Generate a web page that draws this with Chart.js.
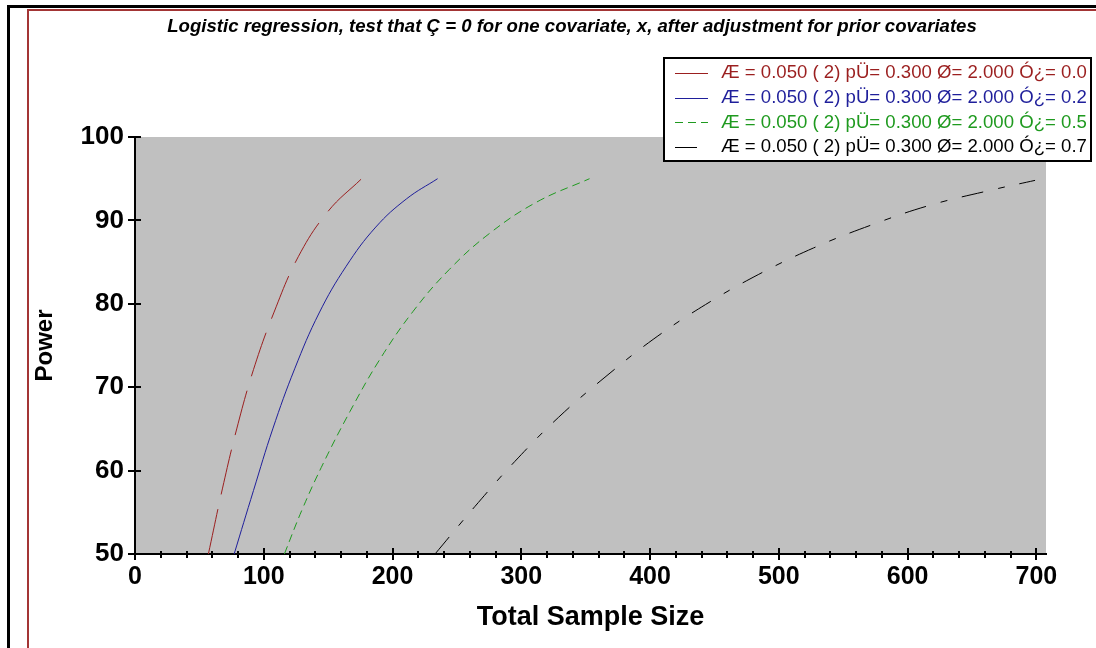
<!DOCTYPE html>
<html>
<head>
<meta charset="utf-8">
<script src="https://cdn.jsdelivr.net/npm/chart.js@4/dist/chart.umd.min.js"></script>
<style>
  html, body { margin: 0; padding: 0; background: #fff; }
  canvas { display: block; }
</style>
</head>
<body>
<canvas id="chart" width="1096" height="648"></canvas>
<script>
// values (sample size N vs power %)
const rhoLabels = ['0.0', '0.2', '0.5', '0.7'];

const nRho00 = [57, 68, 79, 92, 108, 127, 150, 176];
const pwRho00 = [50, 57.9, 65, 72.1, 79, 85.7, 91.1, 95];

const nRho02 = [77, 92, 107, 124, 143, 164, 187, 211, 235];
const pwRho02 = [50, 57.6, 65, 72.2, 78.9, 84.5, 89.2, 92.6, 95];

const nRho05 = [116, 130, 146, 167, 190, 216, 244, 275, 312, 353];
const pwRho05 = [50, 55.4, 60.8, 67.1, 73.3, 79.1, 84.1, 88.4, 92.2, 95];

const nRho07 = [233, 264, 295, 329, 365, 403, 443, 484, 527, 571, 617, 664, 699];
const pwRho07 = [50, 55.7, 61.1, 66.4, 71.2, 75.8, 79.9, 83.5, 86.7, 89.4, 91.8, 93.6, 94.8];

const xTickValues = [0, 100, 200, 300, 400, 500, 600, 700];
const xMinorStep = 20;
const yTickValues = [50, 60, 70, 80, 90, 100];

const SERIES_COLORS = ['#9b1f1f', '#1f1f9b', '#1f9a1f', '#000000'];
const SERIES_DASH = [[46, 15], [], [8, 5], [22, 15, 7, 15]];

const FONT = '"Liberation Sans", Arial, Helvetica, sans-serif';
Chart.defaults.font.family = FONT;
Chart.defaults.color = '#000';

function toPoints(xs, ys) {
  return xs.map((x, i) => ({ x, y: ys[i] }));
}

function makeSeries(i, xs, ys) {
  return {
    label: `Æ = 0.050 ( 2) pÜ= 0.300 Ø= 2.000 Ó¿= ${rhoLabels[i]}`,
    data: toPoints(xs, ys),
    borderColor: SERIES_COLORS[i],
    borderWidth: 1,
    borderDash: SERIES_DASH[i],
    pointRadius: 0,
    tension: 0.4,
    fill: false
  };
}

// frame, title, gray plot area, legend box and axis tick marks
const decorations = {
  id: 'decorations',
  beforeDraw(chart) {
    const ctx = chart.ctx;
    const a = chart.chartArea;
    ctx.save();
    ctx.fillStyle = '#fff';
    ctx.fillRect(0, 0, chart.width, chart.height);
    ctx.fillStyle = '#000';
    ctx.fillRect(7, 5, chart.width - 7, 3);
    ctx.fillRect(7, 5, 3, chart.height - 5);
    ctx.fillStyle = '#a33535';
    ctx.fillRect(27, 9, chart.width - 27, 2);
    ctx.fillRect(27, 9, 2, chart.height - 9);

    ctx.fillStyle = '#000';
    ctx.font = `italic bold 18.6px ${FONT}`;
    ctx.textAlign = 'center';
    ctx.textBaseline = 'middle';
    ctx.fillText('Logistic regression, test that Ç = 0 for one covariate, x, after adjustment for prior covariates', 572, 27);

    ctx.fillStyle = '#c0c0c0';
    ctx.fillRect(a.left, a.top, a.right - a.left, a.bottom - a.top);
    ctx.restore();
  },
  afterDraw(chart) {
    const ctx = chart.ctx;
    const xs = chart.scales.x;
    const ys = chart.scales.y;
    const a = chart.chartArea;
    ctx.save();
    ctx.strokeStyle = '#000';

    ctx.lineWidth = 2;
    for (let v = 0; v <= 700; v += xMinorStep) {
      const px = Math.round(xs.getPixelForValue(v));
      const major = v % 100 === 0;
      ctx.beginPath();
      ctx.moveTo(px, major ? a.bottom - 6 : a.bottom - 3);
      ctx.lineTo(px, major ? a.bottom + 6 : a.bottom + 4);
      ctx.stroke();
    }
    yTickValues.forEach(v => {
      const py = Math.round(ys.getPixelForValue(v));
      ctx.beginPath();
      ctx.moveTo(a.left - 7, py);
      ctx.lineTo(a.left + 6, py);
      ctx.stroke();
    });

    // legend
    const box = { x: 664, y: 58, w: 427, h: 103 };
    ctx.fillStyle = '#fff';
    ctx.fillRect(box.x, box.y, box.w, box.h);
    ctx.lineWidth = 2;
    ctx.strokeRect(box.x, box.y, box.w, box.h);
    ctx.font = `18.6px ${FONT}`;
    ctx.textAlign = 'left';
    ctx.textBaseline = 'middle';
    chart.data.datasets.forEach((ds, i) => {
      const y = 73 + i * 24.7;
      ctx.strokeStyle = ds.borderColor;
      ctx.lineWidth = 1;
      ctx.setLineDash(ds.borderDash);
      ctx.beginPath();
      ctx.moveTo(675, Math.round(y) + 0.5);
      ctx.lineTo(708, Math.round(y) + 0.5);
      ctx.stroke();
      ctx.setLineDash([]);
      ctx.fillStyle = ds.borderColor;
      ctx.fillText(ds.label, 721, y);
    });
    ctx.restore();
  }
};

new Chart(document.getElementById('chart'), {
  type: 'line',
  data: {
    datasets: [
      makeSeries(0, nRho00, pwRho00),
      makeSeries(1, nRho02, pwRho02),
      makeSeries(2, nRho05, pwRho05),
      makeSeries(3, nRho07, pwRho07)
    ]
  },
  options: {
    responsive: false,
    animation: false,
    devicePixelRatio: 1,
    layout: { padding: { left: 0, top: 137, right: 50, bottom: 0 } },
    plugins: {
      legend: { display: false },
      title: { display: false },
      tooltip: { enabled: false }
    },
    scales: {
      x: {
        type: 'linear',
        min: 0,
        max: 707.5,
        afterBuildTicks: s => { s.ticks = xTickValues.map(v => ({ value: v })); },
        afterFit: s => { s.height = 94; },
        grid: { display: false, drawTicks: false },
        border: { display: true, color: '#000', width: 2 },
        ticks: { padding: 8, maxRotation: 0, autoSkip: false, font: { size: 25, weight: 'bold' } },
        title: { display: true, text: 'Total Sample Size', font: { size: 27, weight: 'bold' }, padding: { top: 0, bottom: 14 } }
      },
      y: {
        type: 'linear',
        min: 50,
        max: 100,
        afterBuildTicks: s => { s.ticks = yTickValues.map(v => ({ value: v })); },
        afterFit: s => { s.width = 135; },
        grid: { display: false, drawTicks: false },
        border: { display: true, color: '#000', width: 2 },
        ticks: { padding: 11, font: { size: 26, weight: 'bold' } },
        title: { display: true, text: 'Power', font: { size: 24, weight: 'bold' }, padding: { top: 31, bottom: 0 } }
      }
    }
  },
  plugins: [decorations]
});
</script>
</body>
</html>
